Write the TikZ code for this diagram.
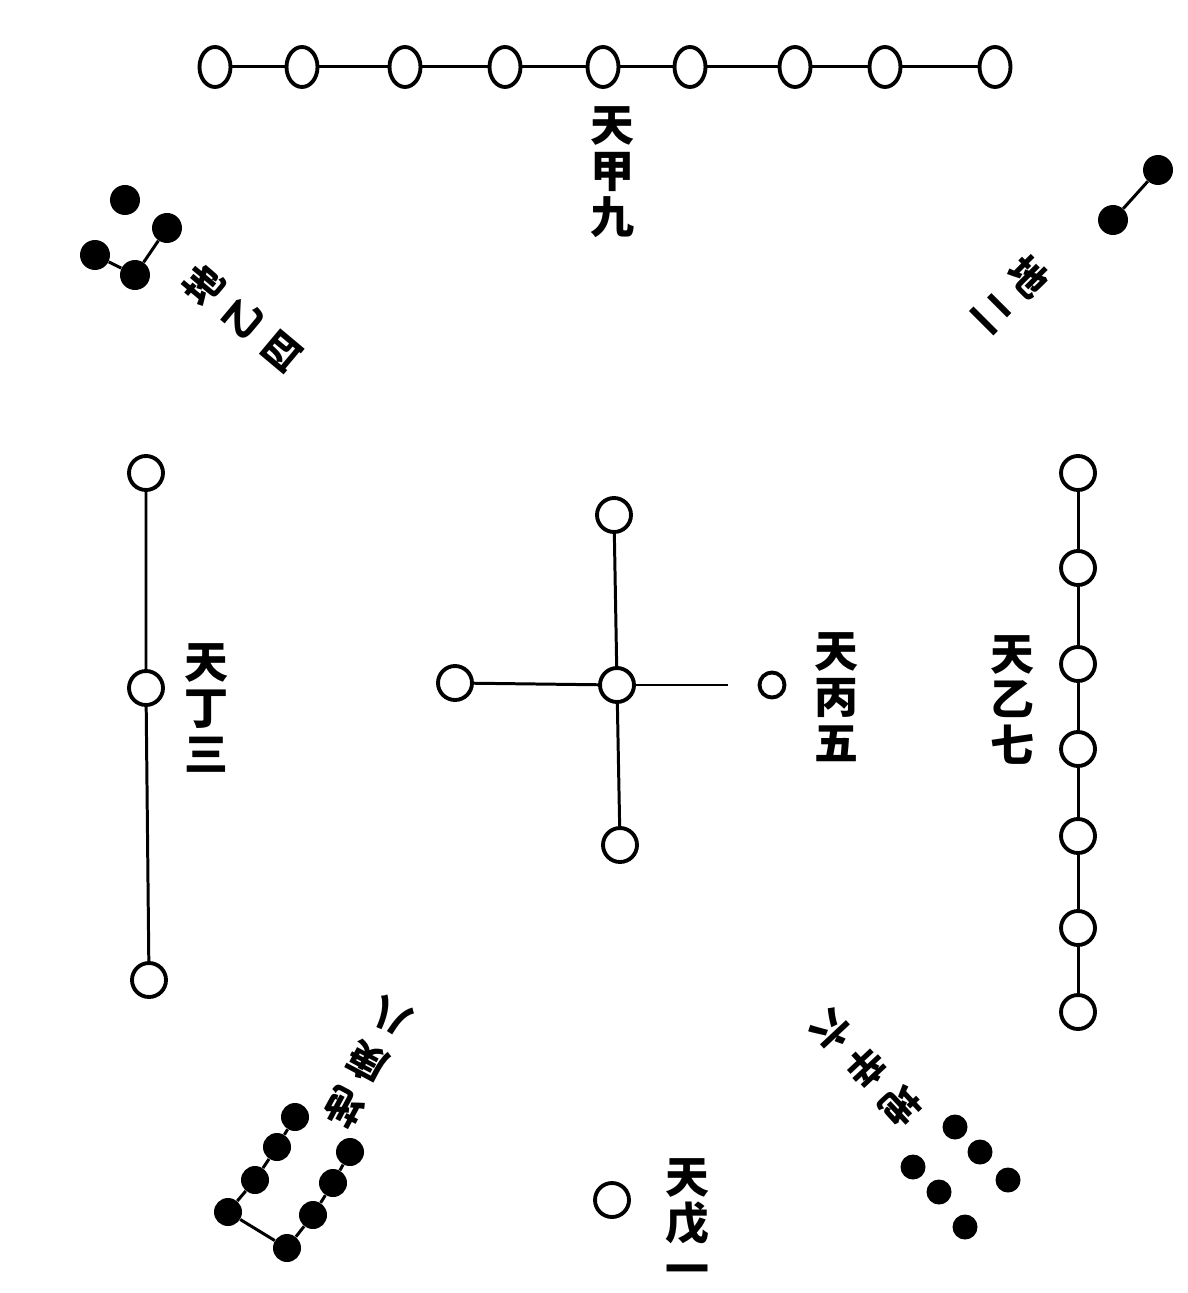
\documentclass[tikz,border=0pt]{standalone}
\usepackage{fontspec}
\usepackage{tikz}
\usetikzlibrary{shapes.geometric}
\newfontfamily\cjk{Noto Sans CJK SC}

\begin{document}
\begin{tikzpicture}[x=0.02cm, y=-0.02cm,
    yang/.style={circle, draw, line width=2.2pt, inner sep=0pt, minimum size=0.68cm},
    yin/.style={circle, fill, inner sep=0pt, minimum size=0.6cm},
    link/.style={line width=1.7pt},
    lbl/.style={align=center, inner sep=0pt, font=\cjk\bfseries\fontsize{25}{26}\selectfont},
    tilted/.style={lbl, font=\cjk\bfseries\fontsize{22}{29}\selectfont}]
    \useasboundingbox (0,0) rectangle (1187,1293);
    % Top row of nine
    \foreach \i/\x in {1/215,2/302,3/405,4/505,5/603,6/690,7/795,8/885,9/995}
        \node[yang, ellipse, minimum width=0.62cm, minimum height=0.8cm] (t\i) at (\x,67) {};
    \foreach \i [evaluate=\i as \j using int(\i+1)] in {1,...,8}
        \draw[link] (t\i) -- (t\j);
    \node[lbl] (lt) at (612,172) {天\\甲\\九};
    % Right column of seven
    \foreach \i/\y in {1/473,2/568,3/664,4/749,5/836,6/928,7/1012}
        \node[yang] (r\i) at (1078,\y) {};
    \foreach \i [evaluate=\i as \j using int(\i+1)] in {1,...,6}
        \draw[link] (r\i) -- (r\j);
    \node[lbl] (lr) at (1012,700) {天\\乙\\七};
    % Left column of three
    \node[yang] (l1) at (146,473) {};
    \node[yang] (l2) at (146,688) {};
    \node[yang] (l3) at (149,980) {};
    \draw[link] (l1) -- (l2) -- (l3);
    \node[lbl] (ll) at (206,708) {天\\丁\\三};
    % Centre cross of five
    \node[yang] (c) at (617,685) {};
    \node[yang] (cn) at (614,515) {};
    \node[yang] (cs) at (620,845) {};
    \node[yang] (cw) at (455,683) {};
    \node[yang, minimum size=0.5cm] (ce) at (772,685) {};
    \draw[link] (cn) -- (c) -- (cs);
    \draw[link] (cw) -- (c);
    \draw[link, shorten >=0.6cm] (c) -- (ce);
    \node[lbl] (lc) at (836,697) {天\\丙\\五};
    % Bottom single
    \node[yang] (b) at (612,1200) {};
    \node[lbl] (lb) at (687,1222) {天\\戊\\一};
    % Top-left four
    \node[yin] (tl1) at (125,200) {};
    \node[yin] (tl2) at (167,228) {};
    \node[yin] (tl3) at (95,255) {};
    \node[yin] (tl4) at (135,275) {};
    \draw[link] (tl3) -- (tl4) -- (tl2);
    \node[tilted, rotate=50] (ltl) at (242,318) {地\\乙\\四};
    % Top-right two
    \node[yin] (tr1) at (1158,170) {};
    \node[yin] (tr2) at (1113,220) {};
    \draw[link] (tr1) -- (tr2);
    \node[tilted, rotate=-45] (ltr) at (1012,294) {地\\二};
    % Bottom-left eight
    \foreach \i/\x/\y in {1/295/1117,2/277/1147,3/255/1180,4/228/1212}
        \node[yin, minimum size=0.56cm] (a\i) at (\x,\y) {};
    \foreach \i/\x/\y in {1/350/1152,2/333/1183,3/313/1215,4/287/1248}
        \node[yin, minimum size=0.56cm] (e\i) at (\x,\y) {};
    \draw[link] (a1) -- (a2) -- (a3) -- (a4) -- (e4) -- (e3) -- (e2) -- (e1);
    \node[tilted, rotate=152] (lbl1) at (368,1062) {地\\庚\\八};
    % Bottom-right six
    \foreach \i/\x/\y in {1/955/1127,2/980/1152,3/1008/1180,4/913/1167,5/939/1192,6/965/1227}
        \node[yin, minimum size=0.5cm] (s\i) at (\x,\y) {};
    \node[tilted, rotate=-137] (lbr) at (866,1068) {地\\辛\\六};
\end{tikzpicture}
\end{document}
